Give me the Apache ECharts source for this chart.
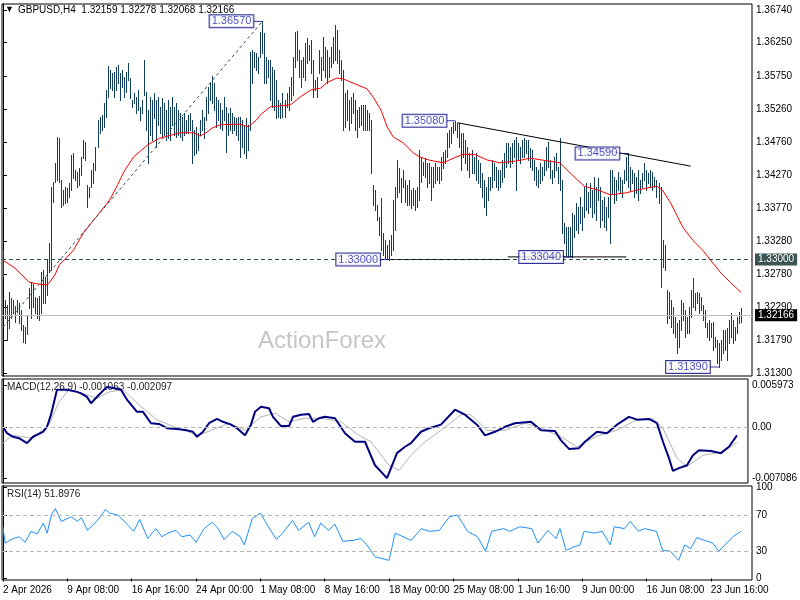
<!DOCTYPE html>
<html>
<head>
<meta charset="utf-8">
<script src="https://cdn.jsdelivr.net/npm/echarts@6.0.0/dist/echarts.min.js"></script>
<style>
html,body{margin:0;padding:0;background:#fff;}
#main{width:800px;height:600px;}
</style>
</head>
<body>
<div id="main"></div>
<script>
// H4 bars, index 0 = 2 Apr 2026 00:00
var hi = [
1.3314,1.3239,1.3232,1.3251,1.3242,1.3239,1.3230,1.3239,1.3235,1.3224,
1.3202,1.3199,1.3217,1.3257,1.3265,1.3263,1.3244,1.3242,1.3245,1.3281,
1.3284,1.3274,1.3299,1.3325,1.3409,1.3416,1.3445,1.3484,1.3482,1.3419,
1.3404,1.3409,1.3407,1.3415,1.3457,1.3460,1.3434,1.3431,1.3437,1.3454,
1.3479,1.3476,1.3412,1.3409,1.3434,1.3445,1.3469,1.3509,1.3514,1.3517,
1.3535,1.3554,1.3590,1.3584,1.3580,1.3581,1.3589,1.3592,1.3580,1.3584,
1.3574,1.3581,1.3595,1.3572,1.3539,1.3550,1.3544,1.3554,1.3529,1.3539,
1.3599,1.3551,1.3524,1.3544,1.3539,1.3550,1.3539,1.3544,1.3529,1.3542,
1.3535,1.3524,1.3539,1.3529,1.3544,1.3529,1.3535,1.3524,1.3520,1.3514,
1.3520,1.3509,1.3517,1.3520,1.3509,1.3494,1.3499,1.3490,1.3509,1.3524,
1.3514,1.3544,1.3559,1.3565,1.3575,1.3565,1.3544,1.3539,1.3535,1.3524,
1.3544,1.3529,1.3520,1.3527,1.3520,1.3514,1.3512,1.3514,1.3514,1.3509,
1.3502,1.3512,1.3502,1.3611,1.3614,1.3611,1.3610,1.3604,1.3641,1.3657,
1.3640,1.3604,1.3599,1.3599,1.3589,1.3584,1.3569,1.3539,1.3535,1.3550,
1.3539,1.3550,1.3559,1.3574,1.3604,1.3641,1.3643,1.3614,1.3599,1.3604,
1.3625,1.3632,1.3622,1.3629,1.3599,1.3569,1.3574,1.3614,1.3604,1.3634,
1.3619,1.3614,1.3604,1.3619,1.3634,1.3652,1.3644,1.3614,1.3599,1.3584,
1.3550,1.3554,1.3539,1.3544,1.3550,1.3539,1.3524,1.3529,1.3532,1.3532,
1.3532,1.3524,1.3520,1.3509,1.3412,1.3404,1.3382,1.3364,1.3392,1.3340,
1.3329,1.3322,1.3329,1.3337,1.3389,1.3409,1.3449,1.3437,1.3422,1.3434,
1.3419,1.3412,1.3419,1.3404,1.3407,1.3404,1.3409,1.3464,1.3454,1.3446,
1.3452,1.3445,1.3445,1.3439,1.3439,1.3445,1.3439,1.3439,1.3454,1.3461,
1.3464,1.3490,1.3494,1.3499,1.3506,1.3508,1.3505,1.3505,1.3490,1.3490,
1.3479,1.3469,1.3460,1.3464,1.3454,1.3460,1.3449,1.3445,1.3430,1.3419,
1.3409,1.3424,1.3424,1.3449,1.3445,1.3439,1.3434,1.3434,1.3449,1.3460,
1.3475,1.3475,1.3469,1.3475,1.3479,1.3484,1.3475,1.3469,1.3479,1.3482,
1.3479,1.3479,1.3467,1.3464,1.3449,1.3439,1.3434,1.3445,1.3439,1.3449,
1.3469,1.3476,1.3449,1.3434,1.3454,1.3460,1.3439,1.3482,1.3419,1.3355,
1.3349,1.3349,1.3349,1.3370,1.3367,1.3385,1.3379,1.3394,1.3379,1.3409,
1.3415,1.3401,1.3415,1.3404,1.3424,1.3409,1.3422,1.3409,1.3389,1.3394,
1.3379,1.3394,1.3434,1.3434,1.3424,1.3419,1.3431,1.3424,1.3419,1.3434,
1.3454,1.3459,1.3439,1.3434,1.3430,1.3424,1.3434,1.3419,1.3430,1.3445,
1.3434,1.3430,1.3434,1.3431,1.3424,1.3419,1.3415,1.3409,1.3329,1.3322,
1.3254,1.3251,1.3239,1.3229,1.3214,1.3205,1.3209,1.3239,1.3235,1.3224,
1.3214,1.3229,1.3254,1.3272,1.3250,1.3251,1.3250,1.3244,1.3232,1.3224,
1.3205,1.3209,1.3205,1.3206,1.3184,1.3179,1.3175,1.3179,1.3194,1.3194,
1.3197,1.3209,1.3220,1.3209,1.3199,1.3214,1.3221,1.3228
];
var lo = [
1.3275,1.3212,1.3179,1.3197,1.3212,1.3220,1.3206,1.3221,1.3205,1.3194,
1.3176,1.3175,1.3188,1.3227,1.3212,1.3229,1.3220,1.3212,1.3209,1.3220,
1.3235,1.3235,1.3247,1.3281,1.3284,1.3386,1.3416,1.3419,1.3416,1.3379,
1.3382,1.3385,1.3386,1.3394,1.3404,1.3422,1.3419,1.3409,1.3412,1.3427,
1.3452,1.3449,1.3379,1.3394,1.3409,1.3415,1.3434,1.3469,1.3490,1.3494,
1.3499,1.3514,1.3544,1.3557,1.3554,1.3544,1.3554,1.3565,1.3539,1.3559,
1.3544,1.3551,1.3569,1.3542,1.3529,1.3535,1.3520,1.3524,1.3509,1.3520,
1.3547,1.3494,1.3445,1.3487,1.3479,1.3512,1.3469,1.3502,1.3490,1.3484,
1.3487,1.3479,1.3482,1.3479,1.3502,1.3487,1.3484,1.3487,1.3484,1.3479,
1.3487,1.3490,1.3490,1.3494,1.3445,1.3457,1.3460,1.3464,1.3487,1.3494,
1.3482,1.3509,1.3520,1.3539,1.3535,1.3524,1.3499,1.3509,1.3497,1.3494,
1.3509,1.3461,1.3487,1.3494,1.3490,1.3494,1.3487,1.3479,1.3454,1.3469,
1.3460,1.3452,1.3464,1.3494,1.3565,1.3589,1.3584,1.3580,1.3604,1.3610,
1.3565,1.3565,1.3574,1.3539,1.3529,1.3524,1.3512,1.3514,1.3512,1.3514,
1.3514,1.3529,1.3524,1.3539,1.3547,1.3589,1.3599,1.3574,1.3559,1.3574,
1.3569,1.3595,1.3599,1.3580,1.3544,1.3554,1.3544,1.3580,1.3569,1.3584,
1.3574,1.3565,1.3574,1.3589,1.3595,1.3599,1.3595,1.3580,1.3569,1.3494,
1.3499,1.3509,1.3494,1.3505,1.3520,1.3494,1.3484,1.3499,1.3502,1.3494,
1.3494,1.3494,1.3494,1.3430,1.3382,1.3374,1.3359,1.3337,1.3314,1.3307,
1.3302,1.3301,1.3300,1.3307,1.3314,1.3344,1.3394,1.3401,1.3386,1.3409,
1.3386,1.3382,1.3382,1.3377,1.3382,1.3374,1.3379,1.3389,1.3416,1.3427,
1.3424,1.3409,1.3415,1.3389,1.3409,1.3415,1.3419,1.3415,1.3419,1.3437,
1.3445,1.3454,1.3469,1.3475,1.3490,1.3494,1.3484,1.3469,1.3434,1.3454,
1.3445,1.3434,1.3424,1.3430,1.3430,1.3419,1.3415,1.3409,1.3394,1.3379,
1.3367,1.3389,1.3404,1.3409,1.3419,1.3409,1.3404,1.3409,1.3416,1.3424,
1.3439,1.3445,1.3439,1.3445,1.3454,1.3404,1.3449,1.3445,1.3454,1.3454,
1.3460,1.3449,1.3439,1.3434,1.3419,1.3412,1.3409,1.3415,1.3419,1.3427,
1.3434,1.3439,1.3422,1.3415,1.3424,1.3434,1.3415,1.3404,1.3340,1.3325,
1.3307,1.3306,1.3305,1.3304,1.3334,1.3344,1.3340,1.3355,1.3344,1.3364,
1.3374,1.3370,1.3379,1.3364,1.3370,1.3359,1.3389,1.3349,1.3359,1.3349,
1.3344,1.3364,1.3325,1.3400,1.3385,1.3389,1.3404,1.3400,1.3394,1.3415,
1.3419,1.3409,1.3404,1.3415,1.3394,1.3400,1.3389,1.3400,1.3409,1.3419,
1.3404,1.3415,1.3409,1.3404,1.3409,1.3394,1.3385,1.3259,1.3289,1.3284,
1.3205,1.3212,1.3199,1.3190,1.3184,1.3160,1.3169,1.3194,1.3209,1.3184,
1.3190,1.3190,1.3214,1.3229,1.3224,1.3235,1.3220,1.3224,1.3209,1.3199,
1.3184,1.3179,1.3184,1.3164,1.3169,1.3145,1.3139,1.3149,1.3160,1.3164,
1.3149,1.3175,1.3184,1.3175,1.3179,1.3190,1.3205,1.3207
];

// moving average (red), read at bar indexes
var maIdx = [0,6,13,18,22,23,26,28,32,35,40,45,48,53,57,60,65,72,78,88,95,98,101,104,108,118,122,126,128,133,143,148,153,158,161,166,169,176,181,184,188,191,194,199,204,207,212,219,224,229,235,241,247,256,262,277,282,289,296,302,310,315,325,328,332,338,343,348,353,357,362,367];
var maVal = [1.3299,1.3287,1.3266,1.3263,1.3262,1.3265,1.3278,1.3292,1.3304,1.3314,1.3340,1.3359,1.3370,1.3389,1.3412,1.3431,1.3454,1.3472,1.3482,1.3490,1.3490,1.3485,1.3490,1.3497,1.3502,1.3503,1.3499,1.3509,1.3517,1.3529,1.3532,1.3544,1.3554,1.3557,1.3565,1.3572,1.3571,1.3562,1.3556,1.3544,1.3524,1.3499,1.3484,1.3475,1.3460,1.3454,1.3449,1.3445,1.3452,1.3458,1.3457,1.3449,1.3445,1.3448,1.3452,1.3445,1.3430,1.3410,1.3404,1.3397,1.3400,1.3404,1.3410,1.3404,1.3385,1.3349,1.3329,1.3314,1.3295,1.3280,1.3265,1.3251];

// MACD(12,26,9)
var macdIdx = [0,2,5,8,12,15,20,22,24,27,32,37,39,42,44,48,52,56,59,62,67,70,74,78,82,87,92,95,97,100,103,107,110,114,117,121,124,126,129,133,135,139,143,145,149,153,155,158,161,166,171,176,181,186,192,197,201,204,209,213,219,226,231,237,241,246,251,256,264,269,276,279,283,288,291,297,302,307,313,317,323,327,330,333,335,338,342,345,348,354,359,363,367];
var macdVal = [0.0001,-0.0008,-0.0013,-0.0015,-0.0022,-0.0013,-0.0006,0.0001,0.0018,0.0053,0.0053,0.0050,0.0048,0.0043,0.0034,0.0046,0.0057,0.0055,0.0053,0.0039,0.0022,0.0022,0.0006,0.0005,-0.0001,-0.0002,-0.0004,-0.0006,-0.0013,-0.0006,0.0006,0.0012,0.0008,0.0004,-0.0001,-0.0011,0.0004,0.0022,0.0029,0.0027,0.0015,0.0002,0.0002,0.0015,0.0018,0.0019,0.0008,0.0013,0.0015,0.0013,-0.0008,-0.0020,-0.0020,-0.0053,-0.0071,-0.0036,-0.0027,-0.0022,-0.0006,-0.0001,0.0004,0.0025,0.0018,0.0004,-0.0011,-0.0006,0.0001,0.0006,0.0008,-0.0004,-0.0005,-0.0018,-0.0030,-0.0029,-0.0020,-0.0006,-0.0008,0.0004,0.0015,0.0011,0.0012,0.0006,-0.0020,-0.0043,-0.0061,-0.0057,-0.0053,-0.0039,-0.0032,-0.0033,-0.0036,-0.0027,-0.0011];
var sigIdx = [0,5,15,23,28,33,42,47,53,60,68,77,87,98,104,113,121,129,136,143,151,159,169,178,184,193,198,204,211,219,229,234,242,251,261,269,279,287,297,307,317,325,330,337,342,350,360,367];
var sigVal = [-0.0022,-0.0011,-0.0015,0.0004,0.0036,0.0053,0.0046,0.0041,0.0050,0.0053,0.0032,0.0011,-0.0001,-0.0011,-0.0004,0.0006,-0.0004,0.0015,0.0020,0.0008,0.0013,0.0013,0.0008,-0.0011,-0.0020,-0.0053,-0.0060,-0.0039,-0.0020,-0.0004,0.0018,0.0018,-0.0004,-0.0004,0.0006,-0.0001,-0.0013,-0.0027,-0.0012,-0.0004,0.0011,0.0012,-0.0001,-0.0043,-0.0055,-0.0039,-0.0034,-0.0021];

// RSI(14)
var rsiIdx = [0,1,5,8,11,14,17,20,22,24,26,29,34,37,39,42,47,51,53,57,59,62,65,68,72,76,79,82,86,89,93,96,100,104,107,110,114,118,120,124,128,132,136,139,144,147,152,155,158,162,165,169,174,178,181,185,192,195,199,203,208,212,217,222,226,231,236,240,243,249,252,257,263,266,271,275,277,280,284,287,289,294,298,302,304,309,312,316,319,325,328,332,336,339,342,345,349,353,356,359,363,367];
var rsiVal = [57,39,44,46,40,52,49,61,50,70,77,63,68,63,67,53,64,76,72,70,66,59,52,65,44,55,46,50,53,46,48,40,55,62,55,43,52,46,37,66,72,57,43,50,64,53,62,46,61,53,60,41,42,44,37,24,20,50,46,42,55,52,53,68,70,52,46,30,52,55,52,57,55,39,53,44,55,31,35,37,52,50,52,37,57,55,63,52,55,52,31,30,20,37,33,45,42,39,30,37,46,52];

var tickLabels = ['2 Apr 2026','9 Apr 08:00','16 Apr 16:00','24 Apr 00:00','1 May 08:00','8 May 16:00','18 May 00:00','25 May 08:00','1 Jun 16:00','9 Jun 00:00','16 Jun 08:00','23 Jun 16:00'];
var priceTicks = [1.3674,1.3625,1.3575,1.3526,1.3476,1.3427,1.3377,1.3328,1.3278,1.3229,1.3179,1.3130];
var macdTicks = [0.005973,0,-0.007086];
var rsiTicks = [100,70,30,0];

// swing labels
var swingIdx = [129,192,225,283,311,356];
var swingVal = [1.3657,1.3300,1.3508,1.3304,1.3459,1.3139];

// drawn lines
var trendLine = [[226,1.3505],[342,1.3440]];
var supportA = [[192,1.3300],[251,1.3300]];
var supportB = [[251,1.3304],[310,1.3304]];
var riseLine = [[0,1.3199],[129,1.3657]];
var levelPrice = 1.33000;
var lastPrice = 1.32166;

var myChart = echarts.init(document.getElementById('main'));
var font = '"Liberation Sans", "DejaVu Sans", sans-serif';

var bars = [];
for (var k = 0; k < hi.length; k++) bars.push([k, hi[k], lo[k]]);
function pairs(ix, v) {
	var out = [];
	for (var k = 0; k < ix.length; k++) out.push([ix[k], v[k]]);
	return out;
}
var xTickVals = [];
for (var t = 0; t < tickLabels.length; t++) xTickVals.push(t * 32);

function xAxisFor(g, showLabels) {
	return {
		type: 'value', gridIndex: g, min: -0.5, max: 372.5,
		axisLine: { show: false },
		axisTick: { show: showLabels, customValues: xTickVals, length: 3, lineStyle: { color: '#000' } },
		axisLabel: {
			show: showLabels, customValues: xTickVals, align: 'left', margin: 5,
			color: '#000', fontSize: 10, fontFamily: font,
			formatter: function (v) { return tickLabels[Math.round(v / 32)] || ''; }
		},
		splitLine: { show: false }
	};
}
function yAxisFor(g, mn, mx, vals, fmt) {
	return {
		type: 'value', gridIndex: g, position: 'right', min: mn, max: mx,
		axisLine: { show: true, lineStyle: { color: '#000' } },
		axisTick: { show: true, customValues: vals, length: 4, lineStyle: { color: '#000' } },
		axisLabel: { customValues: vals, color: '#000', fontSize: 10, fontFamily: font, margin: 4, formatter: fmt },
		splitLine: { show: false }
	};
}

myChart.setOption({
	animation: false,
	backgroundColor: '#fff',
	grid: [
		{ left: 2, right: 48, top: 4, height: 372, show: true, borderColor: '#000', borderWidth: 1 },
		{ left: 2, right: 48, top: 379, height: 104, show: true, borderColor: '#000', borderWidth: 1 },
		{ left: 2, right: 48, top: 486, height: 94, show: true, borderColor: '#000', borderWidth: 1 }
	],
	xAxis: [xAxisFor(0, false), xAxisFor(1, false), xAxisFor(2, true)],
	yAxis: [
		yAxisFor(0, 1.31255, 1.3683, priceTicks, function (v) { return v.toFixed(5); }),
		yAxisFor(1, -0.00779, 0.00681, macdTicks, function (v) { return v === 0 ? '0.00' : v.toFixed(6); }),
		yAxisFor(2, -1.6, 101.9, rsiTicks, function (v) { return String(v); })
	],
	graphic: [
		{ type: 'text', left: 5, top: 5, style: { text: '▼', font: '9px ' + font, fill: '#000' } },
		{ type: 'text', left: 18, top: 5, style: { text: 'GBPUSD,H4  1.32159 1.32278 1.32068 1.32166', font: '10px ' + font, fill: '#000' } },
		{ type: 'text', left: 7, top: 382, style: { text: 'MACD(12,26,9) -0.001063 -0.002097', font: '10px ' + font, fill: '#222' } },
		{ type: 'text', left: 7, top: 489, style: { text: 'RSI(14) 51.8976', font: '10px ' + font, fill: '#222' } },
		{ type: 'text', left: 258, top: 329, z: -1, style: { text: 'ActionForex', font: '24px ' + font, fill: '#c6c6c6' } }
	],
	series: [
		{
			name: 'levels', type: 'line', xAxisIndex: 0, yAxisIndex: 0, data: [], symbol: 'none',
			markLine: {
				silent: true, symbol: 'none', animation: false, precision: 5,
				data: [
					{ yAxis: levelPrice, lineStyle: { color: '#2f4f4f', type: [4, 3], width: 1 },
					  label: { position: 'end', distance: 3, formatter: '1.33000', color: '#fff', backgroundColor: '#3b5454', padding: [1, 3], fontSize: 10, fontFamily: font } },
					{ yAxis: lastPrice, lineStyle: { color: '#c0c0c0', type: 'solid', width: 1 },
					  label: { position: 'end', distance: 3, formatter: '1.32166', color: '#fff', backgroundColor: '#000', padding: [1, 3], fontSize: 10, fontFamily: font } }
				]
			}
		},
		{
			name: 'bars', type: 'custom', xAxisIndex: 0, yAxisIndex: 0, data: bars,
			encode: { x: 0, y: [1, 2] },
			renderItem: function (params, api) {
				var a = api.coord([api.value(0), api.value(1)]);
				var b = api.coord([api.value(0), api.value(2)]);
				var px = Math.round(a[0]) + 0.5;
				return { type: 'line', shape: { x1: px, y1: Math.round(a[1]), x2: px, y2: Math.round(b[1]) + 1 }, style: { stroke: '#123f5e', lineWidth: 1 } };
			}
		},
		{ name: 'MA', type: 'line', xAxisIndex: 0, yAxisIndex: 0, data: pairs(maIdx, maVal), symbol: 'none', lineStyle: { color: '#ff0000', width: 1 } },
		{ name: 'rise', type: 'line', xAxisIndex: 0, yAxisIndex: 0, data: riseLine, symbol: 'none', lineStyle: { color: '#2f4f4f', width: 1, type: [3, 3] } },
		{ name: 'trend', type: 'line', xAxisIndex: 0, yAxisIndex: 0, data: trendLine, symbol: 'none', lineStyle: { color: '#000', width: 1 } },
		{ name: 'supA', type: 'line', xAxisIndex: 0, yAxisIndex: 0, data: supportA, symbol: 'none', lineStyle: { color: '#000', width: 1 } },
		{ name: 'supB', type: 'line', xAxisIndex: 0, yAxisIndex: 0, data: supportB, symbol: 'none', lineStyle: { color: '#000', width: 1 } },
		{
			name: 'swings', type: 'scatter', xAxisIndex: 0, yAxisIndex: 0, data: pairs(swingIdx, swingVal),
			symbol: 'rect', symbolSize: [9, 1], symbolOffset: [-4.5, 0], itemStyle: { color: '#000080' }, z: 5,
			label: {
				show: true, position: 'left', distance: 0, fontSize: 11, fontFamily: font, color: '#1c1cb0',
				backgroundColor: '#fff', borderColor: '#000080', borderWidth: 1, padding: [1, 2, 0, 2],
				formatter: function (p) { return p.value[1].toFixed(5); }
			}
		},
		{
			name: 'MACD', type: 'line', xAxisIndex: 1, yAxisIndex: 1, data: pairs(macdIdx, macdVal), symbol: 'none', z: 3,
			lineStyle: { color: '#000080', width: 2 },
			markLine: { silent: true, symbol: 'none', precision: 6, label: { show: false }, lineStyle: { color: '#b4b4b4', type: [4, 3], width: 1 }, data: [{ yAxis: 0 }] }
		},
		{ name: 'Signal', type: 'line', xAxisIndex: 1, yAxisIndex: 1, data: pairs(sigIdx, sigVal), symbol: 'none', z: 2, lineStyle: { color: '#b4b4b4', width: 1 } },
		{
			name: 'RSI', type: 'line', xAxisIndex: 2, yAxisIndex: 2, data: pairs(rsiIdx, rsiVal), symbol: 'none',
			lineStyle: { color: '#1e90ff', width: 1 },
			markLine: { silent: true, symbol: 'none', label: { show: false }, lineStyle: { color: '#b4b4b4', type: [4, 3], width: 1 }, data: [{ yAxis: 70 }, { yAxis: 30 }] }
		}
	]
});
</script>
</body>
</html>
